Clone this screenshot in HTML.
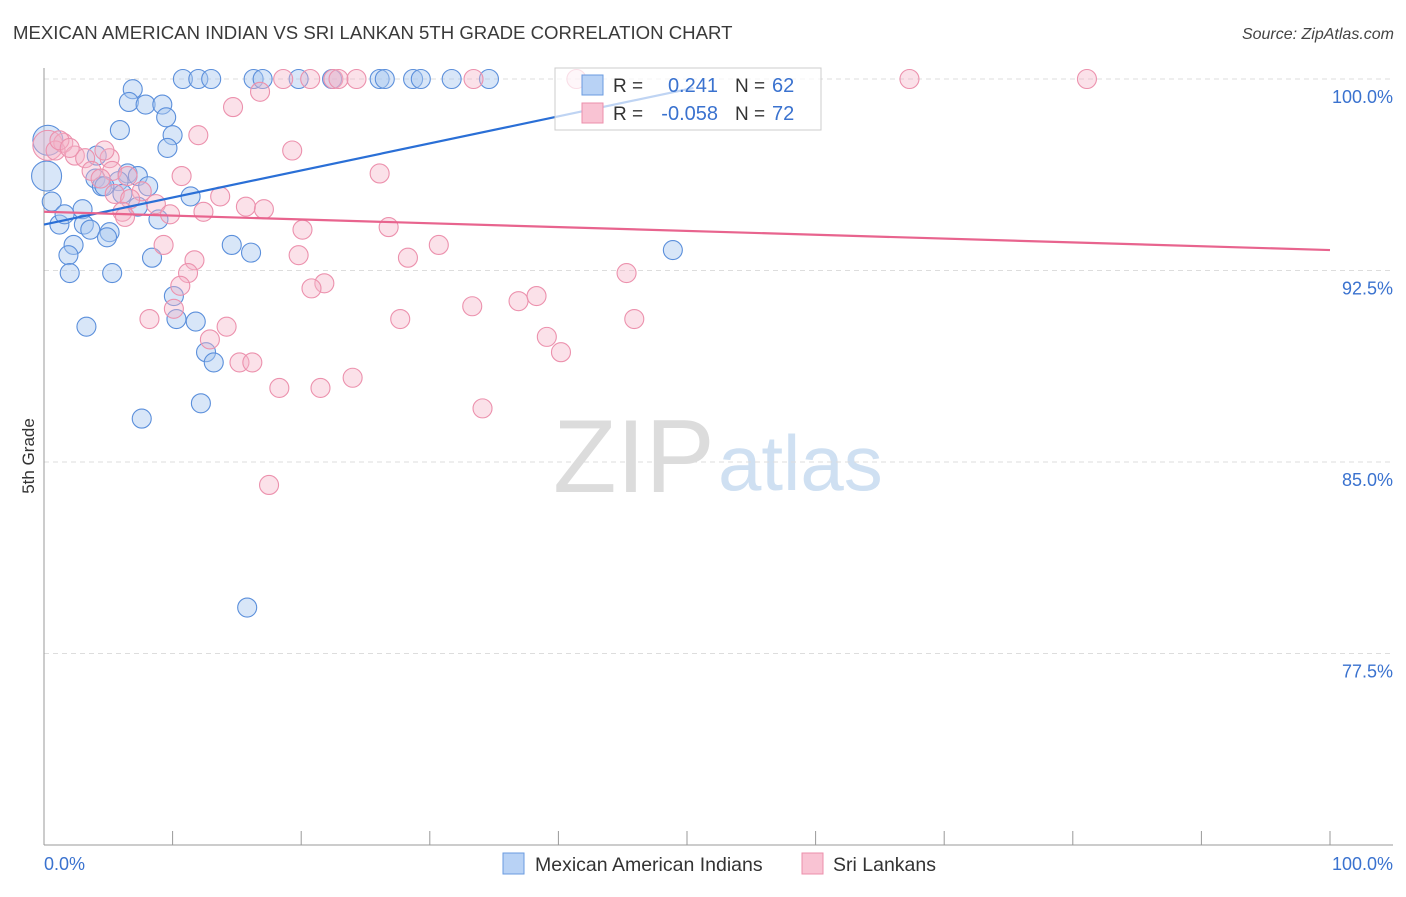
<!DOCTYPE html>
<html><head><meta charset="utf-8"><style>
body{margin:0;background:#fff;font-family:"Liberation Sans",sans-serif}
svg text{font-family:"Liberation Sans",sans-serif}
</style></head><body>
<svg id="chart" width="1406" height="892" xmlns="http://www.w3.org/2000/svg">
<text x="13" y="39" font-size="18.6" fill="#3a3a3a">MEXICAN AMERICAN INDIAN VS SRI LANKAN 5TH GRADE CORRELATION CHART</text>
<text x="1394" y="39" font-size="16" fill="#444" text-anchor="end" font-style="italic">Source: ZipAtlas.com</text>
<g>
<text x="553" y="492" font-size="104" fill="#dcdcdc" font-family="Liberation Serif,serif">ZIP</text>
<text x="718" y="490" font-size="78" fill="#cfe0f2">atlas</text>
</g>
<g id="grid"></g><g id="axes"></g><g id="pts"></g><g id="lines"></g>
<text transform="translate(34,456) rotate(-90)" font-size="17" fill="#333" text-anchor="middle">5th Grade</text>
<g>
<rect x="555" y="68" width="266" height="62" fill="#fff" fill-opacity="0.7" stroke="#ccc"/>
<rect x="582" y="75" width="21" height="20" fill="#b8d2f5" stroke="#6a9be0"/>
<rect x="582" y="103" width="21" height="20" fill="#f9c3d3" stroke="#ec8fab"/>
<text x="613" y="92" font-size="19" fill="#333">R =</text>
<text x="718" y="92" font-size="20" fill="#3a72cf" text-anchor="end">0.241</text>
<text x="735" y="92" font-size="19" fill="#333">N =</text>
<text x="772" y="92" font-size="20" fill="#3a72cf">62</text>
<text x="613" y="120" font-size="19" fill="#333">R =</text>
<text x="718" y="120" font-size="20" fill="#3a72cf" text-anchor="end">-0.058</text>
<text x="735" y="120" font-size="19" fill="#333">N =</text>
<text x="772" y="120" font-size="20" fill="#3a72cf">72</text>
</g>
<g>
<rect x="503" y="853" width="21" height="21" fill="#b8d2f5" stroke="#6a9be0"/>
<text x="535" y="871" font-size="19.5" fill="#333">Mexican American Indians</text>
<rect x="802" y="853" width="21" height="21" fill="#f9c3d3" stroke="#ec8fab"/>
<text x="833" y="871" font-size="19.5" fill="#333">Sri Lankans</text>
</g>
</svg>
<script>
const blueX=[10.8,12.0,13.0,16.3,17.0,19.8,22.4,26.1,26.5,28.7,29.3,31.7,34.6,6.9,6.6,7.9,9.2,9.5,10.0,9.6,5.9,4.1,0.2,0.6,1.2,1.6,3.0,3.1,3.6,2.3,1.9,2.0,5.1,4.9,5.3,6.5,7.3,5.8,4.0,4.5,4.7,6.1,8.1,7.3,8.9,11.4,8.4,14.6,16.1,10.1,10.3,11.8,12.6,13.2,12.2,7.6,3.3,15.8,48.9,0.3];
const blueY=[100,100,100,100,100,100,100,100,100,100,100,100,100,99.6,99.1,99.0,99.0,98.5,97.8,97.3,98.0,97.0,96.2,95.2,94.3,94.7,94.9,94.3,94.1,93.5,93.1,92.4,94.0,93.8,92.4,96.3,96.2,96.0,96.1,95.8,95.8,95.5,95.8,95.0,94.5,95.4,93.0,93.5,93.2,91.5,90.6,90.5,89.3,88.9,87.3,86.7,90.3,79.3,93.3,97.6];
const pinkX=[41.4,18.6,20.7,22.5,22.9,24.3,33.4,67.3,81.1,16.8,14.7,12.0,0.3,1.5,0.9,2.4,3.2,5.1,3.7,5.3,4.4,6.5,19.3,10.7,26.1,7.6,5.5,8.7,6.7,6.1,6.3,9.8,12.4,13.7,15.7,17.1,20.1,26.8,9.3,19.8,28.3,30.7,11.7,11.2,10.6,21.8,20.8,45.3,33.3,36.9,38.3,10.1,8.2,27.7,45.9,14.2,39.1,40.2,12.9,15.2,16.2,18.3,21.5,24.0,34.1,17.5,1.2,2.0,4.7];
const pinkY=[100,100,100,100,100,100,100,100,100,99.5,98.9,97.8,97.4,97.5,97.2,97.0,96.9,96.9,96.4,96.4,96.1,96.2,97.2,96.2,96.3,95.6,95.5,95.1,95.3,94.8,94.6,94.7,94.8,95.4,95.0,94.9,94.1,94.2,93.5,93.1,93.0,93.5,92.9,92.4,91.9,92.0,91.8,92.4,91.1,91.3,91.5,91.0,90.6,90.6,90.6,90.3,89.9,89.3,89.8,88.9,88.9,87.9,87.9,88.3,87.1,84.1,97.6,97.3,97.2];
const blueBig=[22,59];
const pinkBig=[12];
const blueTrendX=[0,50.5], blueTrendY=[94.3,99.65];
const pinkTrendX=[0,100], pinkTrendY=[94.8,93.3];
const yTicks=[100,92.5,85,77.5];
const yTickLabels=["100.0%","92.5%","85.0%","77.5%"];
const xTicks=[0,10,20,30,40,50,60,70,80,90,100];

const NS="http://www.w3.org/2000/svg";
const sx=v=>44+v*12.86;
const sy=v=>79+(100-v)*191.5/7.5;
function mk(tag,attrs,parent){const e=document.createElementNS(NS,tag);for(const k in attrs)e.setAttribute(k,attrs[k]);document.getElementById(parent).appendChild(e);return e;}
yTicks.forEach((t,i)=>{
  const g=mk('line',{x1:44,x2:1393,y1:sy(t),y2:sy(t),stroke:'#ddd','stroke-dasharray':'5,4'},'grid');
  
  
  const l=mk('text',{x:1393,y:sy(t)+24,'font-size':18,fill:'#3a72cf','text-anchor':'end'},'axes');
  l.textContent=yTickLabels[i];
  
  
});
const ya=mk('line',{x1:44,x2:44,y1:68,y2:845,stroke:'#999'},'axes');


const xa=mk('line',{x1:44,x2:1393,y1:845,y2:845,stroke:'#999'},'axes');


xTicks.forEach(t=>{
  const k=mk('line',{x1:sx(t),x2:sx(t),y1:831,y2:845,stroke:'#999'},'axes');
  
  
});
[["0.0%",44,'start'],["100.0%",1393,'end']].forEach(a=>{
  const l=mk('text',{x:a[1],y:870,'font-size':18,fill:'#3a72cf','text-anchor':a[2]},'axes');
  l.textContent=a[0];
  
  
});
blueX.forEach((x,i)=>{
  const c=mk('circle',{cx:sx(x),cy:sy(blueY[i]),r:blueBig.includes(i)?15:9.5,fill:'#a9c8f0','fill-opacity':0.45,stroke:'#5b8fdb','stroke-width':1.1},'pts');
  
  
});
pinkX.forEach((x,i)=>{
  const c=mk('circle',{cx:sx(x),cy:sy(pinkY[i]),r:pinkBig.includes(i)?15:9.5,fill:'#f6b5c9','fill-opacity':0.4,stroke:'#ec91ad','stroke-width':1.1},'pts');
  
  
});
const bl=mk('line',{x1:sx(blueTrendX[0]),y1:sy(blueTrendY[0]),x2:sx(blueTrendX[1]),y2:sy(blueTrendY[1]),stroke:'#2a6fd6','stroke-width':2.2},'lines');


const pl=mk('line',{x1:sx(pinkTrendX[0]),y1:sy(pinkTrendY[0]),x2:sx(pinkTrendX[1]),y2:sy(pinkTrendY[1]),stroke:'#e8648e','stroke-width':2.2},'lines');


</script>
</body></html>
